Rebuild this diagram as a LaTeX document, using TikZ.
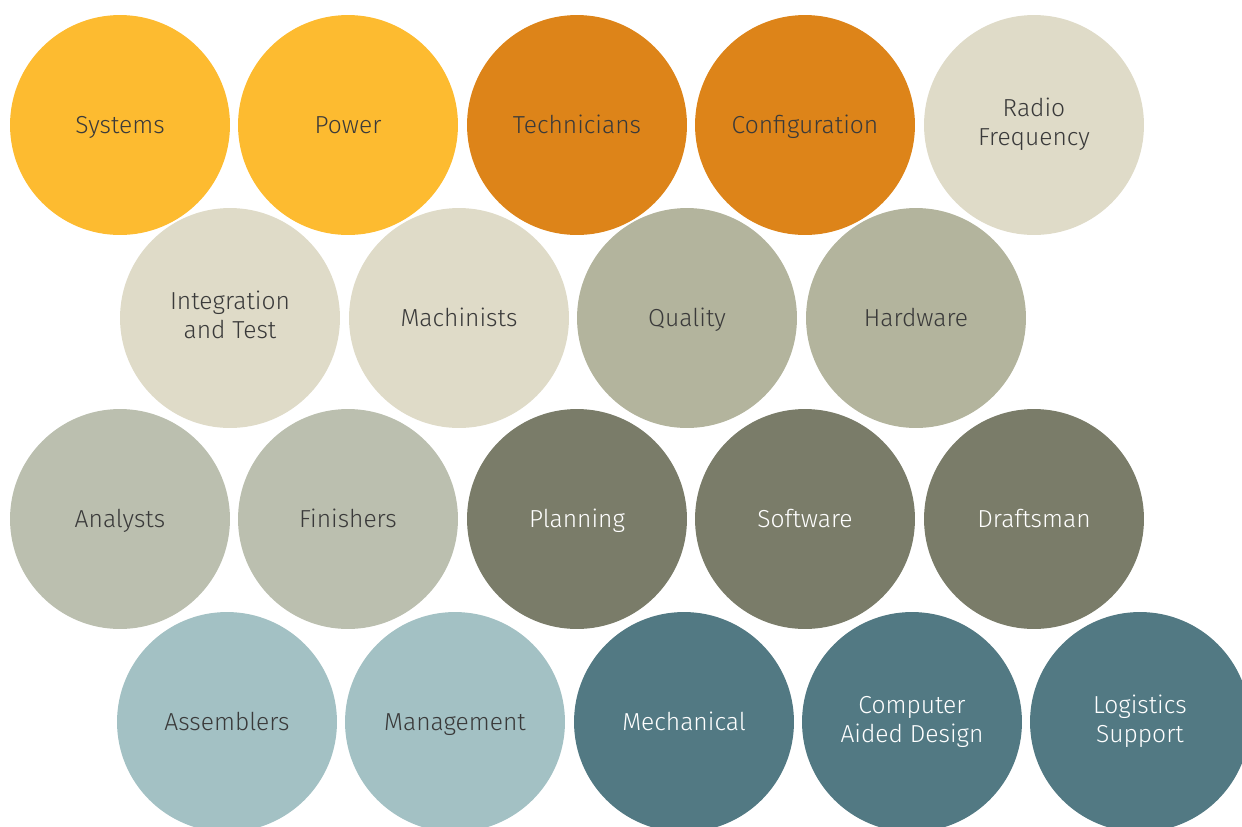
\documentclass[tikz,border=0pt]{standalone}
\usepackage{fontspec}
\setmainfont{Fira Sans}[UprightFont={* Light}]
\usepackage{tikz}

\definecolor{sunYellow}{HTML}{FDBB30}
\definecolor{rustOrange}{HTML}{DD8419}
\definecolor{sandBeige}{HTML}{DFDBC8}
\definecolor{sageGreen}{HTML}{B3B49D}
\definecolor{stoneGrey}{HTML}{BBBFAF}
\definecolor{oliveDark}{HTML}{7A7C69}
\definecolor{mistBlue}{HTML}{A3C1C4}
\definecolor{tealDark}{HTML}{527983}
\definecolor{inkText}{HTML}{3A3A3A}

% strut that centres the capitals in the circle
\newcommand{\bubblestrut}{\rule[-3.4pt]{0pt}{16.5pt}}

\tikzset{
    bubble/.style={circle, minimum size=4.4cm, inner sep=0pt, align=center,
        font=\fontsize{14}{16.5}\selectfont, text=inkText,
        execute at begin node=\bubblestrut, execute at end node=\bubblestrut},
    lightText/.style={text=white}
}

\begin{document}
\begin{tikzpicture}[x=0.02cm, y=-0.02cm]
        \useasboundingbox (0, 0) rectangle (1242, 826);
        \clip (0, 0) rectangle (1242, 826);

        % first row
        \node[bubble, fill=sunYellow] (systems) at (120, 125) {Systems};
        \node[bubble, fill=sunYellow] (power) at (348, 125) {Power};
        \node[bubble, fill=rustOrange] (technicians) at (577, 125) {Technicians};
        \node[bubble, fill=rustOrange] (configuration) at (805, 125) {Configuration};
        \node[bubble, fill=sandBeige] (radio) at (1034, 125) {Radio\\Frequency};

        % second row
        \node[bubble, fill=sandBeige] (integration) at (230, 318) {Integration\\and Test};
        \node[bubble, fill=sandBeige] (machinists) at (459, 318) {Machinists};
        \node[bubble, fill=sageGreen] (quality) at (687, 318) {Quality};
        \node[bubble, fill=sageGreen] (hardware) at (916, 318) {Hardware};

        % third row
        \node[bubble, fill=stoneGrey] (analysts) at (120, 519) {Analysts};
        \node[bubble, fill=stoneGrey] (finishers) at (348, 519) {Finishers};
        \node[bubble, lightText, fill=oliveDark] (planning) at (577, 519) {Planning};
        \node[bubble, lightText, fill=oliveDark] (software) at (805, 519) {Software};
        \node[bubble, lightText, fill=oliveDark] (draftsman) at (1034, 519) {Draftsman};

        % fourth row, runs off the page
        \node[bubble, fill=mistBlue] (assemblers) at (227, 722) {Assemblers};
        \node[bubble, fill=mistBlue] (management) at (455, 722) {Management};
        \node[bubble, lightText, fill=tealDark] (mechanical) at (684, 722) {Mechanical};
        \node[bubble, lightText, fill=tealDark] (cad) at (912, 722) {Computer\\Aided Design};
        \node[bubble, lightText, fill=tealDark] (logistics) at (1140, 722) {Logistics\\Support};

    \end{tikzpicture}
\end{document}
